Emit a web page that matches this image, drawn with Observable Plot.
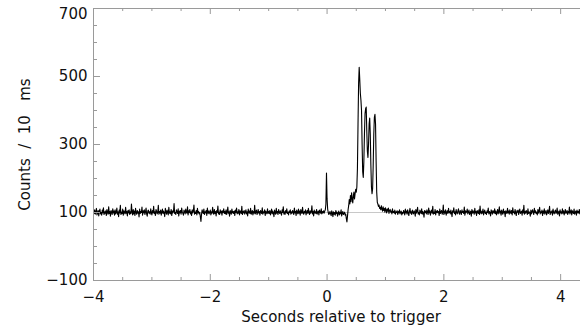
<!DOCTYPE html>
<html>
<head>
<meta charset="utf-8">
<script src="https://cdn.jsdelivr.net/npm/d3@7"></script>
<script src="https://cdn.jsdelivr.net/npm/@observablehq/plot@0.6"></script>
<style>
  html, body { margin: 0; padding: 0; background: #fff; }
  svg { display: block; }
</style>
</head>
<body>
<div id="chart"></div>
<script>
// Counts per 10 ms bin
// background before the trigger: t = -4.00 .. -0.06 s
const countsPre = [
  104,97,108,95,101,112,93,99,106,90,103,110,96,100,92,107,99,114,94,102,
  98,105,91,109,100,95,117,97,103,89,106,101,94,111,99,104,92,108,96,100,
  113,95,102,88,107,99,121,94,101,97,110,92,105,100,96,115,98,103,90,106,
  99,108,94,102,97,125,101,93,109,96,104,91,112,100,95,106,98,102,87,110,
  97,103,100,116,92,105,99,108,94,101,113,96,89,104,107,98,102,95,111,100,
  93,106,99,118,97,102,91,109,104,96,100,121,95,103,98,107,92,101,110,97,
  104,99,88,112,101,95,107,100,93,115,98,102,96,109,91,105,99,103,126,97,
  100,94,108,102,97,111,90,104,99,106,95,113,101,98,92,107,103,96,110,100,
  98,117,93,105,100,109,96,102,91,108,99,104,122,95,101,97,106,93,112,99,
  103,96,100,87,74,95,108,101,97,110,94,102,99,106,91,113,98,104,96,101,
  107,93,102,98,115,100,95,109,97,103,90,106,100,119,96,101,94,108,99,104,
  92,105,100,111,97,103,96,108,94,101,116,98,102,89,106,100,95,110,99,103,
  97,104,91,107,100,113,96,102,98,109,93,105,101,97,118,94,103,99,106,95,
  101,108,96,102,90,110,99,104,97,112,95,100,106,93,103,98,121,96,101,107,
  94,100,109,98,103,92,106,101,97,114,95,102,99,108,91,104,100,96,111,98,
  103,97,106,93,101,110,96,104,99,88,107,100,95,112,98,103,94,109,101,97,
  105,99,92,108,100,117,96,102,94,106,99,111,97,101,93,104,100,108,95,102,
  98,106,101,94,113,99,103,91,107,100,96,110,98,104,92,109,101,97,115,100,
  95,103,99,108,93,101,106,97,112,100,94,105,98,102,120,96,103,90,107,99,
  102,97,109,95,101,104,93,107,100,98,111,96,103,99,105
];
// precursor and main burst: t = -0.05 .. 1.29 s
const countsBurst = [
  98,104,108,125,216,140,110,100,94,97,
  103,96,91,105,99,88,102,95,100,92,106,97,101,89,98,104,93,100,96,108,90,99,103,94,97,101,92,95,82,72,
  90,108,120,138,125,150,132,158,142,128,148,160,140,155,
  168,160,175,230,360,480,527,490,450,430,400,
  300,220,203,250,330,390,405,410,340,280,262,300,360,378,330,240,175,155,170,240,330,380,389,360,250,160,130,125,
  118,122,112,115,108,120,110,104,117,106,112,101,114,108,99,110,104,113,97,106,109,101,104,96,111,100,103,98,107,95,102,100,105,94,103,99,108,96,101,104,93,100
];
// background after the burst: t = 1.30 .. 4.34 s
const countsPost = [
  97,106,101,93,110,99,104,95,108,100,91,103,112,98,102,94,107,100,96,105,
  101,89,109,98,104,115,96,100,93,107,102,97,111,95,103,99,86,106,100,104,
  96,108,101,94,113,99,105,92,102,107,98,118,95,101,97,109,93,104,100,106,
  99,103,91,110,97,102,106,95,100,122,94,104,98,108,92,101,105,97,112,100,
  103,96,107,99,88,105,101,114,97,102,93,109,100,96,104,111,98,95,106,101,
  94,108,100,103,97,116,92,105,99,102,110,96,101,107,94,100,104,89,109,98,
  105,100,95,112,99,103,91,106,101,97,108,94,119,100,96,104,98,110,93,102,
  107,97,101,94,105,100,113,96,103,99,90,108,102,95,106,101,98,111,97,104,
  93,100,109,96,102,117,98,104,92,107,100,95,110,99,103,88,105,101,97,112,
  99,104,95,108,101,97,106,93,114,100,102,96,109,98,91,105,101,107,94,103,
  110,97,100,104,92,108,99,121,95,103,98,106,101,94,111,97,102,100,89,107,
  96,103,108,99,94,112,100,105,97,101,93,109,98,104,115,96,102,99,107,91,
  104,98,111,95,101,106,93,100,108,97,103,118,94,102,99,105,92,110,100,96,
  103,107,97,101,113,95,100,104,90,108,99,102,96,111,98,105,93,101,109,97,
  100,106,94,103,99,116,96,102,108,93,105,100,97,110,95,101,104,92,107,99,
  103,98,109,96,104
];
const segmentStarts = [-4.00, -0.05, 1.30];
const binWidth = 0.01;
const background = [100];

const xMajor = [-4, -2, 0, 2, 4];
const xMinor = [-3.5, -3, -2.5, -1.5, -1, -0.5, 0.5, 1, 1.5, 2.5, 3, 3.5];
const yMajor = [-100, 100, 300, 500, 700];
const yMinor = [-50, 0, 50, 150, 200, 250, 350, 400, 450, 550, 600, 650];
const xTitle = "Seconds relative to trigger";
const yTitle = "Counts\u00a0\u00a0/\u00a0\u00a010\u00a0\u00a0\u00a0ms";

const data = [];
[countsPre, countsBurst, countsPost].forEach((arr, s) => {
  arr.forEach((c, i) => data.push({t: +(segmentStarts[s] + i * binWidth).toFixed(2), c}));
});

const W = 580, H = 331, mL = 93, mR = 0, mT = 8, mB = 51;
const iH = H - mT - mB, iW = W - mL - mR;
const axisColor = "#9a9a9a";
const font = "DejaVu Sans, sans-serif";
const fmt = d => d < 0 ? "\u2212" + Math.abs(d) : String(d);

const chart = Plot.plot({
  width: W, height: H,
  marginLeft: mL, marginRight: mR, marginTop: mT, marginBottom: mB,
  style: {fontFamily: font, fontSize: "15px", background: "white", color: "#111"},
  x: {domain: [-4, 4.34]},
  y: {domain: [-100, 700]},
  marks: [
    Plot.ruleY(background, {stroke: "#c8c8c8", strokeWidth: 1}),
    Plot.line(data, {x: "t", y: "c", stroke: "#000", strokeWidth: 1.1}),
    // box lines
    Plot.ruleX([-4], {stroke: axisColor}),
    Plot.ruleY([-100, 700], {stroke: axisColor}),
    // bottom ticks
    Plot.tickX(xMajor, {x: d => d, insetTop: iH - 6, stroke: axisColor}),
    Plot.tickX(xMinor, {x: d => d, insetTop: iH - 3, stroke: axisColor}),
    // top ticks
    Plot.tickX(xMajor, {x: d => d, insetBottom: iH - 6, stroke: axisColor}),
    Plot.tickX(xMinor, {x: d => d, insetBottom: iH - 3, stroke: axisColor}),
    // left ticks
    Plot.tickY(yMajor, {y: d => d, insetRight: iW - 7, stroke: axisColor}),
    Plot.tickY(yMinor, {y: d => d, insetRight: iW - 4, stroke: axisColor}),
    Plot.axisX(xMajor, {tickSize: 0, tickPadding: 11, fontSize: 15, label: null, tickFormat: fmt}),
    Plot.axisY(yMajor.slice(0, 4), {tickSize: 0, tickPadding: 6, fontSize: 15, label: null, tickFormat: fmt}),
    Plot.axisY(yMajor.slice(4), {tickSize: 0, tickPadding: 6, fontSize: 15, label: null, tickFormat: fmt, dy: 6}),
    Plot.text([xTitle], {frameAnchor: "bottom", dy: 37, dx: 4, textAnchor: "middle", lineAnchor: "middle",
      fontSize: 15, letterSpacing: "0.5px", fill: "#111"}),
    Plot.text([yTitle], {frameAnchor: "left", dx: -68, rotate: -90, textAnchor: "middle", lineAnchor: "middle",
      fontSize: 15, fill: "#111"})
  ]
});
document.getElementById("chart").appendChild(chart);
</script>
</body>
</html>
